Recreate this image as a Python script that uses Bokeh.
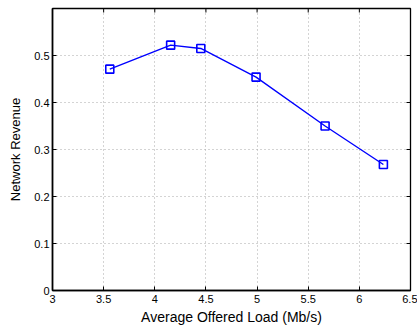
import math
from bokeh.plotting import figure
from bokeh.models import Range1d, FixedTicker
from bokeh.embed import file_html
from bokeh.resources import INLINE

offered_load = [3.56, 4.155, 4.45, 4.99, 5.665, 6.235]
revenue = [0.471, 0.522, 0.515, 0.454, 0.350, 0.268]
x_ticks = [3, 3.5, 4, 4.5, 5, 5.5, 6, 6.5]
y_ticks = [0, 0.1, 0.2, 0.3, 0.4, 0.5]
x_min, x_max = 3, 6.5
y_min, y_max = 0, 0.6

FONT = "Liberation Sans"

p = figure(width=417, height=327, output_backend="svg", toolbar_location=None,
           x_range=Range1d(x_min, x_max), y_range=Range1d(y_min, y_max),
           min_border_left=52, min_border_right=7, min_border_top=8, min_border_bottom=36)
p.outline_line_color = "black"
p.outline_line_width = 1.3
p.background_fill_color = "white"
p.border_fill_color = "white"

p.xaxis.ticker = FixedTicker(ticks=x_ticks)
p.yaxis.ticker = FixedTicker(ticks=y_ticks)
p.xaxis.axis_label = "Average Offered Load (Mb/s)"
p.yaxis.axis_label = "Network Revenue"

for ax in (p.xaxis[0], p.yaxis[0]):
    ax.major_tick_in = 4
    ax.major_tick_out = 0
    ax.minor_tick_in = 0
    ax.minor_tick_out = 0
    ax.axis_line_width = 1.6
    ax.axis_line_color = "black"
    ax.major_tick_line_color = "black"
    ax.major_label_text_font = FONT
    ax.major_label_text_font_size = "11px"
    ax.major_label_text_color = "black"
    ax.axis_label_text_font = FONT
    ax.axis_label_text_font_style = "normal"
    ax.axis_label_text_color = "black"

p.xaxis.axis_label_text_font_size = "14px"
p.yaxis.axis_label_text_font_size = "13px"
p.xaxis.major_label_standoff = 4
p.xaxis.axis_label_standoff = 3
p.yaxis.major_label_standoff = 3
p.yaxis.axis_label_standoff = 8

for g in (p.xgrid[0], p.ygrid[0]):
    g.grid_line_color = "#a8a8a8"
    g.grid_line_dash = "1 3"
    g.grid_line_width = 1

# mirrored inward ticks on the top and right edges of the box
p.ray(x=x_ticks, y=[y_max] * len(x_ticks), length=4, length_units="screen",
      angle=-math.pi / 2, line_color="black", line_width=1)
p.ray(x=[x_max] * len(y_ticks), y=y_ticks, length=4, length_units="screen",
      angle=math.pi, line_color="black", line_width=1)

p.line(offered_load, revenue, line_color="#0000ff", line_width=1.4)
p.scatter(offered_load, revenue, marker="square", size=8, fill_color=None,
          line_color="#0000ff", line_width=1.6)

open("out.html", "w").write(file_html(p, INLINE))
